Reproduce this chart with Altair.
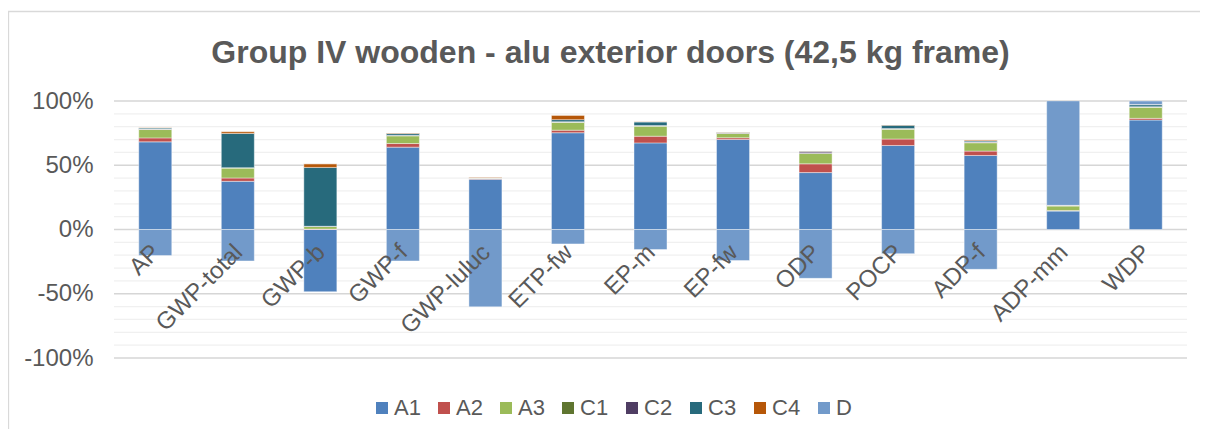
import altair as alt
import pandas as pd

categories = ["AP", "GWP-total", "GWP-b", "GWP-f", "GWP-luluc", "ETP-fw", "EP-m",
              "EP-fw", "ODP", "POCP", "ADP-f", "ADP-mm", "WDP"]
series = ["A1", "A2", "A3", "C1", "C2", "C3", "C4", "D"]
colors = ["#4f81bd", "#c0504d", "#9bbb59", "#5f7530", "#4f3d63", "#276a7c", "#b65708", "#729aca"]

A1 = [68.2, 37.5, -48.4, 64.1, 39.1, 75.3, 67.4, 70.1, 44.3, 65.4, 57.6, 14.3, 85.2]
A2 = [3.1, 2.6, 0.3, 2.8, 0.5, 2.0, 5.2, 1.3, 6.8, 5.0, 3.4, 0.5, 1.3]
A3 = [6.5, 7.8, 2.0, 6.0, 0.3, 6.0, 7.8, 3.4, 8.1, 7.6, 6.5, 3.6, 8.6]
C1 = [0.2, 0.1, 0.1, 0.2, 0.1, 0.3, 0.2, 0.2, 0.2, 0.2, 0.2, 0.1, 0.2]
C2 = [0.2, 0.1, 0.1, 0.3, 0.3, 0.3, 0.3, 0.3, 0.9, 0.4, 0.4, 0.1, 0.3]
C3 = [0.8, 26.6, 45.8, 1.4, 0.2, 1.6, 2.8, 0.3, 0.6, 2.6, 0.8, 0.1, 1.5]
C4 = [0.2, 1.3, 2.9, 0.3, 0.3, 3.3, 0.2, 0.2, 0.2, 0.2, 0.6, 0.1, 0.2]
D = [-20.3, -24.5, 0.0, -24.5, -60.2, -11.2, -15.6, -24.2, -38.0, -18.8, -31.0, 81.3, 2.7]

y_labels = [-1.0, -0.5, 0.0, 0.5, 1.0]
y_grid = [-1.0, -0.9, -0.8, -0.7, -0.6, -0.5, -0.4, -0.3, -0.2, -0.1, 0.0,
          0.1, 0.2, 0.3, 0.4, 0.5, 0.6, 0.7, 0.8, 0.9, 1.0]
title_text = "Group IV wooden - alu exterior doors (42,5 kg frame)"

values = {"A1": A1, "A2": A2, "A3": A3, "C1": C1, "C2": C2, "C3": C3, "C4": C4, "D": D}
rows = []
for si, s in enumerate(series):
    for ci, c in enumerate(categories):
        rows.append({"cat": c, "series": s, "order": si, "value": values[s][ci] / 100.0})
df = pd.DataFrame(rows)
cat_df = pd.DataFrame({"cat": categories, "zero": [0.0] * len(categories)})
grid_df = pd.DataFrame({"v": y_grid, "major": [abs(round(v * 10)) % 5 == 0 for v in y_grid]})

FONT = "Liberation Sans"
GREY = "#595959"
W, H = 1073, 257

xscale = alt.Scale(domain=categories, paddingInner=0.6, paddingOuter=0.3)
yscale = alt.Scale(domain=[-1, 1], nice=False)
yaxis = alt.Axis(values=y_labels, title=None, ticks=False, domain=False, grid=False,
                 labelExpr="(datum.value < 0 ? '-' : '') + abs(round(datum.value*100)) + '%'",
                 labelOverlap=False,
                 labelFont=FONT, labelFontSize=24, labelColor=GREY, labelPadding=21)

grid = alt.Chart(grid_df).mark_rule(strokeWidth=1.3).encode(
    y=alt.Y("v:Q", scale=yscale, axis=yaxis, title=None),
    color=alt.condition("datum.major", alt.value("#d6d6d6"), alt.value("#f0f0f0")),
)

bars = alt.Chart(df).mark_bar(clip=True, stroke="white", strokeWidth=0.6, strokeOpacity=0.7).encode(
    x=alt.X("cat:N", sort=categories, scale=xscale, axis=None),
    y=alt.Y("value:Q", stack="zero", scale=yscale, axis=yaxis, title=None),
    color=alt.Color("series:N", sort=series, scale=alt.Scale(domain=series, range=colors),
                    legend=alt.Legend(title=None, orient="none", direction="horizontal",
                                      legendX=257, legendY=296, symbolType="square",
                                      symbolSize=144, symbolStrokeWidth=0, labelFont=FONT,
                                      labelFontSize=22, labelColor=GREY, labelOffset=1,
                                      columnPadding=12, padding=0)),
    order=alt.Order("order:Q", sort="ascending"),
)

labels = alt.Chart(cat_df).mark_text(
    angle=315, align="right", baseline="middle", font=FONT, fontSize=24, color=GREY,
    dx=-13, dy=14.5,
).encode(
    x=alt.X("cat:N", sort=categories, scale=xscale, axis=None),
    y=alt.Y("zero:Q", scale=yscale, axis=yaxis, title=None),
    text="cat:N",
)

title = alt.Chart(pd.DataFrame({"t": [title_text]})).mark_text(
    font=FONT, fontSize=32, fontWeight="bold", color=GREY, align="center", baseline="alphabetic"
).encode(x=alt.value(496.5), y=alt.value(-38.5), text="t:N")

frame = alt.Chart(pd.DataFrame({"a": [0]})).mark_rect(
    fillOpacity=0, stroke="#d9d9d9", strokeWidth=1.3
).encode(
    x=alt.value(-105.5), x2=alt.value(1150), y=alt.value(-89.5), y2=alt.value(420)
)

chart = alt.layer(frame, grid, bars, labels, title).properties(
    width=W, height=H,
    padding={"left": 106, "top": 93, "right": 13, "bottom": 71},
    autosize=alt.AutoSizeParams(type="none"),
).configure_view(stroke=None).configure_axis(domain=False)

chart.save("out.html", embed_options={"renderer": "svg", "actions": False})
